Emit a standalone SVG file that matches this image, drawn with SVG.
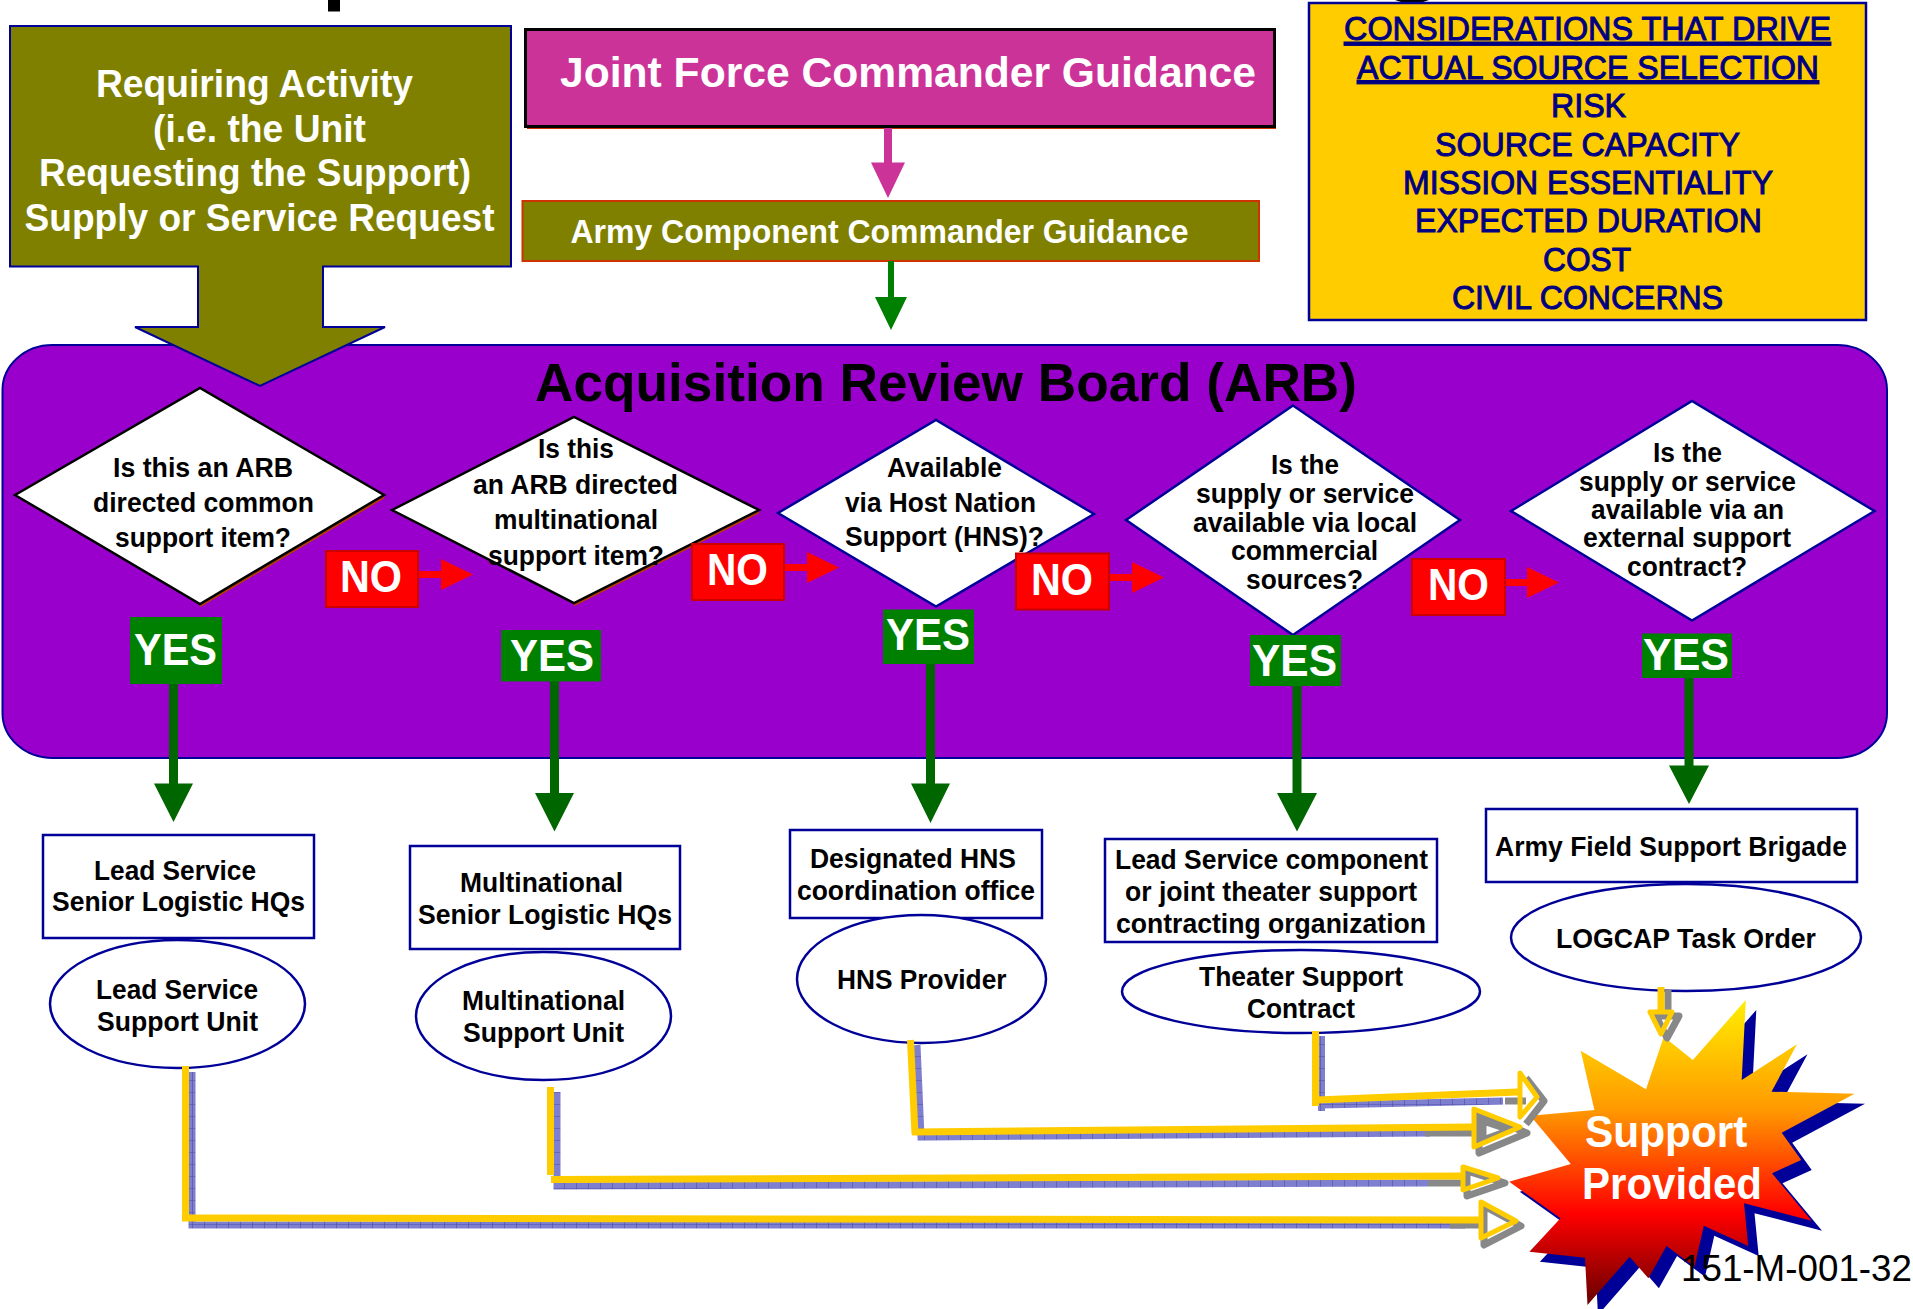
<svg xmlns="http://www.w3.org/2000/svg" width="1913" height="1309" viewBox="0 0 1913 1309">
<style>
text{font-family:"Liberation Sans",Arial,sans-serif;font-weight:bold;fill:#000}
.w{fill:#fff}
.q{font-size:27.5px}
.big{font-size:39px}
.cons{font-size:34px;font-weight:normal;fill:#000080;stroke:#000080;stroke-width:1px}
.yn{font-size:45px;fill:#fff}
.nav{stroke:#000099;stroke-width:2.5;fill:#fff}
.no{fill:#f00;stroke:#cc0000;stroke-width:2}
.yes{fill:#008000}
.dg{fill:#006600}
.red{fill:#f00}
.ys{fill:none;stroke:#ffcc00;stroke-width:7}
.hd{fill:none;stroke:#ffcc00;stroke-width:5;stroke-linejoin:round}
.gs{fill:none;stroke:#888;stroke-width:7;stroke-linejoin:round}
.bs{fill:none;stroke:url(#hatch);stroke-width:7}
</style>
<defs>
<pattern id="hatch" width="12" height="12" patternUnits="userSpaceOnUse"><rect width="12" height="12" fill="#7f7fd0"/><path d="M0 0V12M0 0H12" stroke="#4c4cae" stroke-width="1.2"/></pattern>
<linearGradient id="star" x1="0" y1="0" x2="0" y2="1"><stop offset="0" stop-color="#ffee00"/><stop offset=".36" stop-color="#ff9900"/><stop offset=".7" stop-color="#ff0000"/><stop offset="1" stop-color="#660000"/></linearGradient>
<polygon id="burst" points="1745.8,1000 1741.7,1080 1797,1044.3 1771.5,1091.7 1854.5,1093.7 1781.7,1132.7 1801.2,1160 1772,1173.3 1811.5,1220.7 1744,1203.3 1748.2,1246 1703.8,1225.7 1694.5,1266.7 1666.5,1246 1648.4,1278.3 1629.6,1256.7 1587.5,1305 1585,1257.7 1529.4,1251.7 1560.5,1218.3 1509.2,1181.7 1570.8,1164 1530.4,1115.7 1594.4,1110 1580.7,1050.7 1646,1089.3 1663.8,1036.7 1692.8,1060"/>
</defs>
<rect width="1913" height="1309" fill="#fff"/>
<rect x="328" y="0" width="12" height="11.5" fill="#000"/>
<path d="M1395 0Q1408 5 1420 3L1429 0Z" fill="#000"/>

<g id="arb-board"><rect x="2.5" y="345" width="1884.5" height="413" rx="50" ry="45" fill="#9900cc" stroke="#000099" stroke-width="2"/>
<text x="535" y="401" font-size="54" textLength="822" lengthAdjust="spacingAndGlyphs">Acquisition Review Board (ARB)</text></g>

<g id="requiring-activity"><polygon points="10,26 511,26 511,266.5 323,266.5 323,327 385,327 260,386 135,327 198,327 198,266.5 10,266.5" fill="#808000" stroke="#000099" stroke-width="2"/>
<text class="w big" x="96" y="97" textLength="317" lengthAdjust="spacingAndGlyphs">Requiring Activity</text>
<text class="w big" x="153" y="141.5" textLength="213" lengthAdjust="spacingAndGlyphs">(i.e. the Unit</text>
<text class="w big" x="39" y="186" textLength="432" lengthAdjust="spacingAndGlyphs">Requesting the Support)</text>
<text class="w big" x="24.5" y="231" textLength="470" lengthAdjust="spacingAndGlyphs">Supply or Service Request</text></g>

<g id="joint-force"><rect x="527" y="31" width="749" height="98" fill="#cc3300"/><rect x="525.5" y="29.5" width="749" height="97" fill="#cc3399" stroke="#000" stroke-width="3"/>
<text class="w" x="560" y="87" font-size="43" textLength="696" lengthAdjust="spacingAndGlyphs">Joint Force Commander Guidance</text></g>

<g id="army-component"><rect x="522.5" y="201" width="736.5" height="60" fill="#808000" stroke="#cc3300" stroke-width="2"/>
<text class="w" x="570.5" y="242.5" font-size="33" textLength="618" lengthAdjust="spacingAndGlyphs">Army Component Commander Guidance</text></g>

<g id="considerations"><rect x="1309" y="3" width="557" height="317" fill="#ffcc00" stroke="#000099" stroke-width="2.5"/>
<text class="cons" text-decoration="underline" x="1344" y="40" textLength="487" lengthAdjust="spacingAndGlyphs">CONSIDERATIONS THAT DRIVE</text>
<text class="cons" text-decoration="underline" x="1357" y="78.5" textLength="462" lengthAdjust="spacingAndGlyphs">ACTUAL SOURCE SELECTION</text>
<text class="cons" x="1551" y="117" textLength="75" lengthAdjust="spacingAndGlyphs">RISK</text>
<text class="cons" x="1435" y="155.5" textLength="305" lengthAdjust="spacingAndGlyphs">SOURCE CAPACITY</text>
<text class="cons" x="1403" y="193.5" textLength="370" lengthAdjust="spacingAndGlyphs">MISSION ESSENTIALITY</text>
<text class="cons" x="1415" y="232" textLength="347" lengthAdjust="spacingAndGlyphs">EXPECTED DURATION</text>
<text class="cons" x="1543" y="270.5" textLength="88" lengthAdjust="spacingAndGlyphs">COST</text>
<text class="cons" x="1452" y="308.5" textLength="271" lengthAdjust="spacingAndGlyphs">CIVIL CONCERNS</text></g>

<g id="q1"><polyline points="384,497 200,606" fill="none" stroke="#b83c00" stroke-width="2.5"/><polygon points="15,495 200,388 384,495 200,604" fill="#fff" stroke="#000" stroke-width="2.5"/>
<text class="q" x="113" y="477" textLength="180" lengthAdjust="spacingAndGlyphs">Is this an ARB</text>
<text class="q" x="93" y="512" textLength="221" lengthAdjust="spacingAndGlyphs">directed common</text>
<text class="q" x="115" y="547" textLength="176" lengthAdjust="spacingAndGlyphs">support item?</text></g>

<g id="q2"><polyline points="759,512 574,605" fill="none" stroke="#b83c00" stroke-width="2.5"/><polygon points="392,510 574,417 759,510 574,603" fill="#fff" stroke="#000" stroke-width="2.5"/>
<text class="q" x="538" y="458" textLength="76" lengthAdjust="spacingAndGlyphs">Is this</text>
<text class="q" x="473" y="494" textLength="205" lengthAdjust="spacingAndGlyphs">an ARB directed</text>
<text class="q" x="494" y="529" textLength="164" lengthAdjust="spacingAndGlyphs">multinational</text>
<text class="q" x="488" y="565" textLength="176" lengthAdjust="spacingAndGlyphs">support item?</text></g>

<g id="q3"><polygon class="nav" points="778,513 936,420 1094,514 936,606.5"/>
<text class="q" x="887" y="477" textLength="115" lengthAdjust="spacingAndGlyphs">Available</text>
<text class="q" x="845" y="512" textLength="191" lengthAdjust="spacingAndGlyphs">via Host Nation</text>
<text class="q" x="845" y="546" textLength="199" lengthAdjust="spacingAndGlyphs">Support (HNS)?</text></g>

<g id="q4"><polygon class="nav" points="1126,520 1293,405.5 1460,520 1293,635"/>
<text class="q" x="1271" y="473.5" textLength="68" lengthAdjust="spacingAndGlyphs">Is the</text>
<text class="q" x="1196" y="502.5" textLength="218" lengthAdjust="spacingAndGlyphs">supply or service</text>
<text class="q" x="1193" y="531.5" textLength="224" lengthAdjust="spacingAndGlyphs">available via local</text>
<text class="q" x="1231" y="560" textLength="147" lengthAdjust="spacingAndGlyphs">commercial</text>
<text class="q" x="1246" y="589" textLength="117" lengthAdjust="spacingAndGlyphs">sources?</text></g>

<g id="q5"><polygon class="nav" points="1511,511 1692,401 1874.5,511 1692,620.5"/>
<text class="q" x="1653" y="461.5" textLength="69" lengthAdjust="spacingAndGlyphs">Is the</text>
<text class="q" x="1579" y="490.5" textLength="217" lengthAdjust="spacingAndGlyphs">supply or service</text>
<text class="q" x="1591" y="518.5" textLength="193" lengthAdjust="spacingAndGlyphs">available via an</text>
<text class="q" x="1583" y="547" textLength="208" lengthAdjust="spacingAndGlyphs">external support</text>
<text class="q" x="1627" y="576" textLength="120" lengthAdjust="spacingAndGlyphs">contract?</text></g>

<g id="connectors">
<g id="no-arrows">
<polygon class="red" points="418,571 441,571 441,559 473,574.5 441,590 441,578 418,578"/>
<polygon class="red" points="784,564 807,564 807,552 839,567.5 807,583 807,571 784,571"/>
<polygon class="red" points="1109,574 1132,574 1132,562 1164,577.5 1132,593 1132,581 1109,581"/>
<polygon class="red" points="1505,579 1527,579 1527,567 1559,582.5 1527,598 1527,586 1505,586"/>
</g>
<polygon fill="#cc3399" points="884,128 892,128 892,162.5 905,162.5 888,198 871,162.5 884,162.5"/>
<polygon fill="#008000" points="888,261 894,261 894,297 907,297 891,330 875,297 888,297"/>
<polygon class="dg" points="169,684 178,684 178,783.5 193,783.5 173.5,822 154,783.5 169,783.5"/>
<polygon class="dg" points="550,681 559,681 559,793 574,793 554.5,831.5 535,793 550,793"/>
<polygon class="dg" points="926,664 935,664 935,783.5 950,783.5 930.5,823 911,783.5 926,783.5"/>
<polygon class="dg" points="1292.5,686 1301.5,686 1301.5,793 1317,793 1297,831.5 1277,793 1292.5,793"/>
<polygon class="dg" points="1684.5,675 1693.5,675 1693.5,765.5 1709,765.5 1689,804 1669,765.5 1684.5,765.5"/>
</g>

<g id="no1"><rect class="no" x="326" y="551" width="92" height="56"/><text class="yn" x="340" y="592" textLength="62" lengthAdjust="spacingAndGlyphs">NO</text></g>
<g id="no2"><rect class="no" x="692" y="544" width="92" height="56"/><text class="yn" x="707" y="585" textLength="61" lengthAdjust="spacingAndGlyphs">NO</text></g>
<g id="no3"><rect class="no" x="1016" y="553.5" width="93" height="56"/><text class="yn" x="1031" y="594.5" textLength="62" lengthAdjust="spacingAndGlyphs">NO</text></g>
<g id="no4"><rect class="no" x="1412" y="559" width="93" height="56"/><text class="yn" x="1428" y="600" textLength="61" lengthAdjust="spacingAndGlyphs">NO</text></g>

<g id="yes1"><rect class="yes" x="130" y="617" width="92" height="67"/><text class="yn" x="134" y="665" textLength="83" lengthAdjust="spacingAndGlyphs">YES</text></g>
<g id="yes2"><rect class="yes" x="501" y="630" width="100" height="51.5"/><text class="yn" x="510" y="670.5" textLength="84" lengthAdjust="spacingAndGlyphs">YES</text></g>
<g id="yes3"><rect class="yes" x="883" y="609.5" width="91" height="54.5"/><text class="yn" x="886" y="650" textLength="84" lengthAdjust="spacingAndGlyphs">YES</text></g>
<g id="yes4"><rect class="yes" x="1250" y="635" width="91" height="51"/><text class="yn" x="1252" y="675.5" textLength="85" lengthAdjust="spacingAndGlyphs">YES</text></g>
<g id="yes5"><rect class="yes" x="1642" y="633.5" width="90" height="44.5"/><text class="yn" x="1643" y="669.5" textLength="86" lengthAdjust="spacingAndGlyphs">YES</text></g>

<g id="hq1"><rect class="nav" x="43" y="835" width="271" height="103"/>
<text class="q" x="94" y="880" textLength="162" lengthAdjust="spacingAndGlyphs">Lead Service</text>
<text class="q" x="52" y="911" textLength="253" lengthAdjust="spacingAndGlyphs">Senior Logistic HQs</text></g>
<g id="hq2"><rect class="nav" x="410" y="846" width="270" height="103"/>
<text class="q" x="460" y="892" textLength="163" lengthAdjust="spacingAndGlyphs">Multinational</text>
<text class="q" x="418" y="924" textLength="254" lengthAdjust="spacingAndGlyphs">Senior Logistic HQs</text></g>
<g id="hq3"><rect class="nav" x="790" y="830" width="252" height="88"/>
<text class="q" x="810" y="868" textLength="206" lengthAdjust="spacingAndGlyphs">Designated HNS</text>
<text class="q" x="797" y="900" textLength="238" lengthAdjust="spacingAndGlyphs">coordination office</text></g>
<g id="hq4"><rect class="nav" x="1105" y="839" width="332" height="103"/>
<text class="q" x="1115" y="869" textLength="313" lengthAdjust="spacingAndGlyphs">Lead Service component</text>
<text class="q" x="1125" y="901" textLength="292" lengthAdjust="spacingAndGlyphs">or joint theater support</text>
<text class="q" x="1116" y="933" textLength="310" lengthAdjust="spacingAndGlyphs">contracting organization</text></g>
<g id="hq5"><rect class="nav" x="1486" y="809" width="371" height="73"/>
<text class="q" x="1495" y="856" textLength="352" lengthAdjust="spacingAndGlyphs">Army Field Support Brigade</text></g>

<g id="unit1"><ellipse class="nav" cx="177.5" cy="1004" rx="127.5" ry="64"/>
<text class="q" x="96" y="999" textLength="162" lengthAdjust="spacingAndGlyphs">Lead Service</text>
<text class="q" x="97" y="1031" textLength="161" lengthAdjust="spacingAndGlyphs">Support Unit</text></g>
<g id="unit2"><ellipse class="nav" cx="543.5" cy="1016" rx="127.5" ry="64"/>
<text class="q" x="462" y="1010" textLength="163" lengthAdjust="spacingAndGlyphs">Multinational</text>
<text class="q" x="463" y="1042" textLength="161" lengthAdjust="spacingAndGlyphs">Support Unit</text></g>
<g id="unit3"><ellipse class="nav" cx="921.5" cy="979" rx="124.5" ry="64"/>
<text class="q" x="837" y="989" textLength="169.5" lengthAdjust="spacingAndGlyphs">HNS Provider</text></g>
<g id="unit4"><ellipse class="nav" cx="1301" cy="991.5" rx="179" ry="41.5"/>
<text class="q" x="1199" y="986" textLength="204" lengthAdjust="spacingAndGlyphs">Theater Support</text>
<text class="q" x="1247" y="1018" textLength="108" lengthAdjust="spacingAndGlyphs">Contract</text></g>
<g id="unit5"><ellipse class="nav" cx="1686" cy="937.5" rx="175" ry="53.5"/>
<text class="q" x="1556" y="947.5" textLength="260" lengthAdjust="spacingAndGlyphs">LOGCAP Task Order</text></g>

<g id="support-provided"><use href="#burst" x="10.5" y="10" fill="#000099"/><use href="#burst" fill="url(#star)"/>
<text class="w" x="1585" y="1147" font-size="44" textLength="162.5" lengthAdjust="spacingAndGlyphs">Support</text>
<text class="w" x="1582" y="1199" font-size="44" textLength="180" lengthAdjust="spacingAndGlyphs">Provided</text></g>

<g id="supply-connectors">
<polyline class="bs" points="192,1072 192,1225 1465,1225"/>
<polyline class="bs" points="557,1092 557,1186 1428,1183"/>
<polyline class="bs" points="917,1045 921,1137 1430,1133"/>
<polyline class="bs" points="1321.5,1036 1321.5,1111"/>
<polyline class="bs" points="1322,1105 1503,1101"/>
<polyline class="gs" points="1450,1225 1484,1225"/>
<polygon class="gs" points="1484,1206 1521,1226 1484,1245"/>
<polyline class="gs" points="1428,1183 1467,1183"/>
<polygon class="gs" points="1467,1171 1505,1183 1467,1196"/>
<polyline class="gs" points="1425,1133 1479,1133"/>
<polygon class="gs" points="1479,1114 1527,1133 1479,1153"/>
<polygon class="gs" points="1483,1121 1510,1130 1483,1140"/>
<polyline class="gs" points="1505,1101 1526,1101"/>
<polyline class="gs" points="1526,1078 1544,1101 1526,1124"/>
<polyline class="ys" points="185.5,1066 185.5,1218 1479,1220"/>
<polygon class="hd" points="1481,1202 1516,1221 1481,1238"/>
<polyline class="ys" points="550.5,1087 550.5,1175"/>
<polyline class="ys" points="551,1179.5 1462,1176"/>
<polygon class="hd" points="1463,1167 1498,1178 1463,1190"/>
<polyline class="ys" points="910.5,1040 915,1134"/>
<polyline class="ys" points="912,1132 1474,1127"/>
<polygon class="hd" points="1474,1109 1520,1127 1474,1147"/>
<polyline class="ys" points="1315.5,1031 1315.5,1106"/>
<polyline class="ys" points="1316,1100 1518,1092"/>
<polygon class="hd" points="1520,1073 1537,1097 1520,1117"/>
<polyline points="1668,990 1668,1014" fill="none" stroke="#888" stroke-width="7"/>
<polygon class="gs" points="1656,1016 1679,1016 1667,1038"/>
<polyline class="ys" points="1661,987 1661,1011"/>
<polygon class="hd" points="1650,1012 1672,1012 1661,1034"/>
</g>

<text x="1681" y="1281" font-size="37" style="font-weight:normal" textLength="231" lengthAdjust="spacingAndGlyphs">151-M-001-32</text>
</svg>
